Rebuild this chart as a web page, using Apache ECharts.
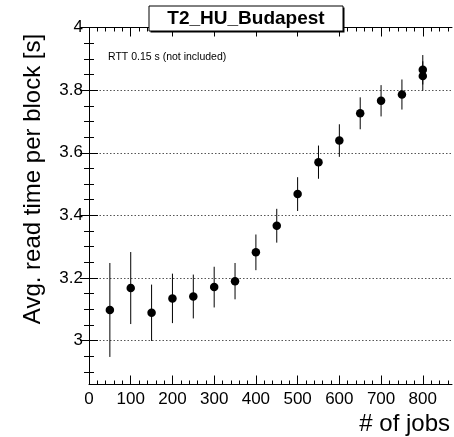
<!DOCTYPE html>
<html>
<head>
<meta charset="utf-8">
<script src="https://cdn.jsdelivr.net/npm/echarts@6/dist/echarts.min.js"></script>
<style>
  html, body { margin: 0; padding: 0; background: #fff; }
  #chart { width: 454px; height: 437px; }
</style>
</head>
<body>
<div id="chart"></div>
<script>
// Average read time per block vs. number of concurrent jobs
const jobs = [50, 100, 150, 200, 250, 300, 350, 400, 450, 500, 550, 600, 650, 700, 750, 800, 800];
const readTime = [3.098, 3.168, 3.089, 3.135, 3.141, 3.171, 3.190, 3.282, 3.367, 3.468, 3.570, 3.639, 3.726, 3.766, 3.786, 3.865, 3.845];
const readErr = [0.150, 0.115, 0.090, 0.079, 0.070, 0.065, 0.058, 0.057, 0.054, 0.054, 0.053, 0.052, 0.051, 0.050, 0.048, 0.047, 0.047];

// Axis ranges and tick positions
const xRange = [0, 870];
const yRange = [2.86, 4.0];
const xMajor = [0, 100, 200, 300, 400, 500, 600, 700, 800];
const xMinor = [];
for (let v = 20; v < 870; v += 20) if (v % 100 !== 0) xMinor.push(v);
const yMajor = [3.0, 3.2, 3.4, 3.6, 3.8, 4.0];
const yMinor = [];
for (let k = 58; k <= 80; k++) { if (k % 4 !== 0) yMinor.push(+(k * 0.05).toFixed(2)); }

const FONT = '"Liberation Sans", Arial, Helvetica, sans-serif';
const BLACK = '#000';

function xAxisDef(position, ticks, len, withLabels, withLine) {
  return {
    type: 'value', position, min: xRange[0], max: xRange[1],
    axisLine: { show: withLine, lineStyle: { color: BLACK, width: 1 } },
    axisTick: { show: true, inside: true, length: len, customValues: ticks, lineStyle: { color: BLACK, width: 1 } },
    axisLabel: withLabels
      ? { show: true, customValues: xMajor, margin: 6, color: BLACK, fontSize: 17, fontFamily: FONT }
      : { show: false },
    splitLine: { show: false }
  };
}
function yAxisDef(position, ticks, len, withLabels, withLine, withGrid) {
  return {
    type: 'value', position, min: yRange[0], max: yRange[1],
    axisLine: { show: withLine, lineStyle: { color: BLACK, width: 1 } },
    axisTick: { show: true, inside: true, length: len, customValues: ticks, lineStyle: { color: BLACK, width: 1 } },
    axisLabel: withLabels
      ? { show: true, customValues: yMajor, margin: 6, color: BLACK, fontSize: 17, fontFamily: FONT,
          formatter: v => (Math.abs(v - Math.round(v)) < 1e-9 ? String(Math.round(v)) : v.toFixed(1)) }
      : { show: false },
    splitLine: withGrid
      ? { show: true, lineStyle: { color: '#555', width: 1, type: [1.5, 2] } }
      : { show: false }
  };
}

const chart = echarts.init(document.getElementById('chart'), null, { renderer: 'canvas' });

chart.setOption({
  animation: false,
  backgroundColor: '#fff',
  grid: { left: 89, right: 2, top: 27.5, bottom: 52.5, containLabel: false },
  xAxis: [
    xAxisDef('bottom', xMajor, 9, true, true),
    xAxisDef('bottom', xMinor, 4, false, false),
    xAxisDef('top', xMajor, 9, false, true),
    xAxisDef('top', xMinor, 4, false, false)
  ],
  yAxis: [
    yAxisDef('left', yMajor, 9, true, true, true),
    yAxisDef('left', yMinor, 5, false, false, false),
    yAxisDef('right', yMajor, 9, false, true, false),
    yAxisDef('right', yMinor, 5, false, false, false)
  ],
  series: [
    {
      name: 'error',
      type: 'custom',
      xAxisIndex: 0, yAxisIndex: 0,
      data: jobs.map((j, i) => [j, readTime[i], readErr[i]]),
      renderItem(params, api) {
        const x = api.value(0), y = api.value(1), e = api.value(2);
        const p1 = api.coord([x, y + e]);
        const p2 = api.coord([x, y - e]);
        return {
          type: 'line',
          shape: { x1: p1[0], y1: p1[1], x2: p2[0], y2: p2[1] },
          style: { stroke: BLACK, lineWidth: 1 }
        };
      },
      z: 2
    },
    {
      name: 'read time',
      type: 'scatter',
      xAxisIndex: 0, yAxisIndex: 0,
      data: jobs.map((j, i) => [j, readTime[i]]),
      symbol: 'circle',
      symbolSize: 8.5,
      itemStyle: { color: BLACK, opacity: 1 },
      z: 3
    }
  ],
  graphic: [
    // title pave with a thin drop shadow
    { type: 'rect', shape: { x: 150.5, y: 7.5, width: 194, height: 25 }, style: { fill: BLACK }, z: 10 },
    { type: 'rect', shape: { x: 149, y: 6, width: 194, height: 25 }, style: { fill: '#fff', stroke: BLACK, lineWidth: 1 }, z: 11 },
    { type: 'text', x: 246, y: 19, z: 12,
      style: { text: 'T2_HU_Budapest', font: 'bold 19px ' + FONT, fill: BLACK, align: 'center', verticalAlign: 'middle' } },
    { type: 'text', x: 108, y: 57, z: 12,
      style: { text: 'RTT 0.15 s (not included)', font: '10.5px ' + FONT, fill: BLACK, align: 'left', verticalAlign: 'middle' } },
    { type: 'text', x: 33, y: 179, rotation: Math.PI / 2, z: 12,
      style: { text: 'Avg. read time per block [s]', font: '24px ' + FONT, fill: BLACK, align: 'center', verticalAlign: 'middle' } },
    { type: 'text', x: 450, y: 424, z: 12,
      style: { text: '# of jobs', font: '24px ' + FONT, fill: BLACK, align: 'right', verticalAlign: 'middle' } }
  ]
});
</script>
</body>
</html>
